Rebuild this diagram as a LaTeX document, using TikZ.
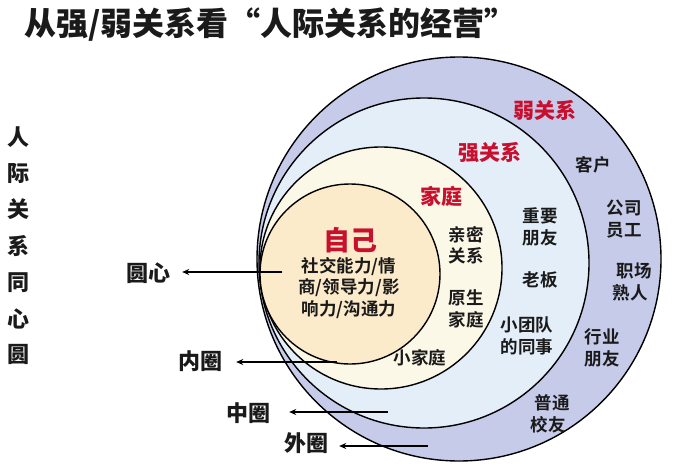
\documentclass[tikz,border=0pt]{standalone}
\usepackage{fontspec}
\setmainfont{Noto Sans CJK SC}[BoldFont={Noto Sans CJK SC Bold}]
\newfontfamily\heavy{Noto Sans CJK SC Black}
\usetikzlibrary{calc, positioning, arrows.meta}

\definecolor{weakfill}{HTML}{C7CBEA}
\definecolor{strongfill}{HTML}{E4EEF9}
\definecolor{familyfill}{HTML}{FCF8E8}
\definecolor{selffill}{HTML}{FCEBCB}
\definecolor{keyred}{HTML}{C8102E}
\definecolor{ink}{HTML}{1A1A1A}

\tikzset{
  ring/.style={circle, draw=black, line width=1.4pt, inner sep=0pt},
  lbl/.style={font=\bfseries\fontsize{17.5}{21.5}\selectfont, align=center, text=ink, inner sep=0pt},
  keylbl/.style={font=\heavy\fontsize{21}{24}\selectfont, text=keyred, inner sep=0pt},
  side/.style={font=\heavy\fontsize{22}{24}\selectfont, text=ink, inner sep=0pt},
  pointer/.style={-{Stealth[length=7pt,width=6pt]}, line width=1.2pt}
}

\begin{document}
\begin{tikzpicture}[x=1pt,y=-1pt]
\useasboundingbox (0,0) rectangle (674,468);

\node[anchor=west, font=\heavy\fontsize{32}{34}\selectfont, text=ink, inner sep=0pt] (title) at (24,25) {从强/弱关系看“人际关系的经营”};

% vertical caption
\foreach \ch [count=\i] in {人,际,关,系,同,心,圆}
  \node[side] (v\i) at (19,{137+36.3*(\i-1)}) {\ch};

% concentric rings
\node[ring, fill=weakfill, minimum size=404pt] (weak) at (459,259) {};
\node[ring, fill=strongfill, minimum size=330pt] (strong) at (424,263) {};
\node[ring, fill=familyfill, minimum size=242pt] (family) at (381,268) {};
\node[ring, fill=selffill, minimum size=180pt] (self) at (350,274) {};

% ring titles
\node[keylbl] (weakname) at (545,110) {弱关系};
\node[keylbl] (strongname) at (490,153) {强关系};
\node[keylbl] (familyname) at (441,196) {家庭};
\node[keylbl, font=\heavy\fontsize{27}{28}\selectfont] (selfname) at (350,240) {自己};

% contents
\node[lbl] (skills) at (349,288) {社交能力/情\\商/领导力/影\\响力/沟通力};
\node[lbl] (intimate) at (466,245) {亲密\\关系};
\node[lbl] (origin) at (466,309) {原生\\家庭};
\node[lbl] (small) at (420,358) {小家庭};
\node[lbl] (friends) at (540,227) {重要\\朋友};
\node[lbl] (boss) at (540,280) {老板};
\node[lbl] (team) at (527,336) {小团队\\的同事};
\node[lbl] (client) at (593,165) {客户};
\node[lbl] (staff) at (624,219) {公司\\员工};
\node[lbl] (work) at (630,282) {\hspace*{8pt}职场\\熟人};
\node[lbl] (trade) at (602,348) {行业\\朋友};
\node[lbl] (alumni) at (548,414) {\hspace*{8pt}普通\\校友};

% ring labels and pointers
\node[side] (core) at (148,273) {圆心};
\node[side] (inner) at (200,361) {内圈};
\node[side] (middle) at (248,413) {中圈};
\node[side] (outer) at (306,443) {外圈};

\coordinate (t0) at (282,272);
\coordinate (t1) at (337,362);
\coordinate (t2) at (388,412);
\coordinate (t3) at (428,446);
\draw[pointer] (t0) -- ([xshift=12pt]core.east |- t0);
\draw[pointer] (t1) -- ([xshift=14pt]inner.east |- t1);
\draw[pointer] (t2) -- ([xshift=19pt]middle.east |- t2);
\draw[pointer] (t3) -- ([xshift=11pt]outer.east |- t3);
\end{tikzpicture}
\end{document}
